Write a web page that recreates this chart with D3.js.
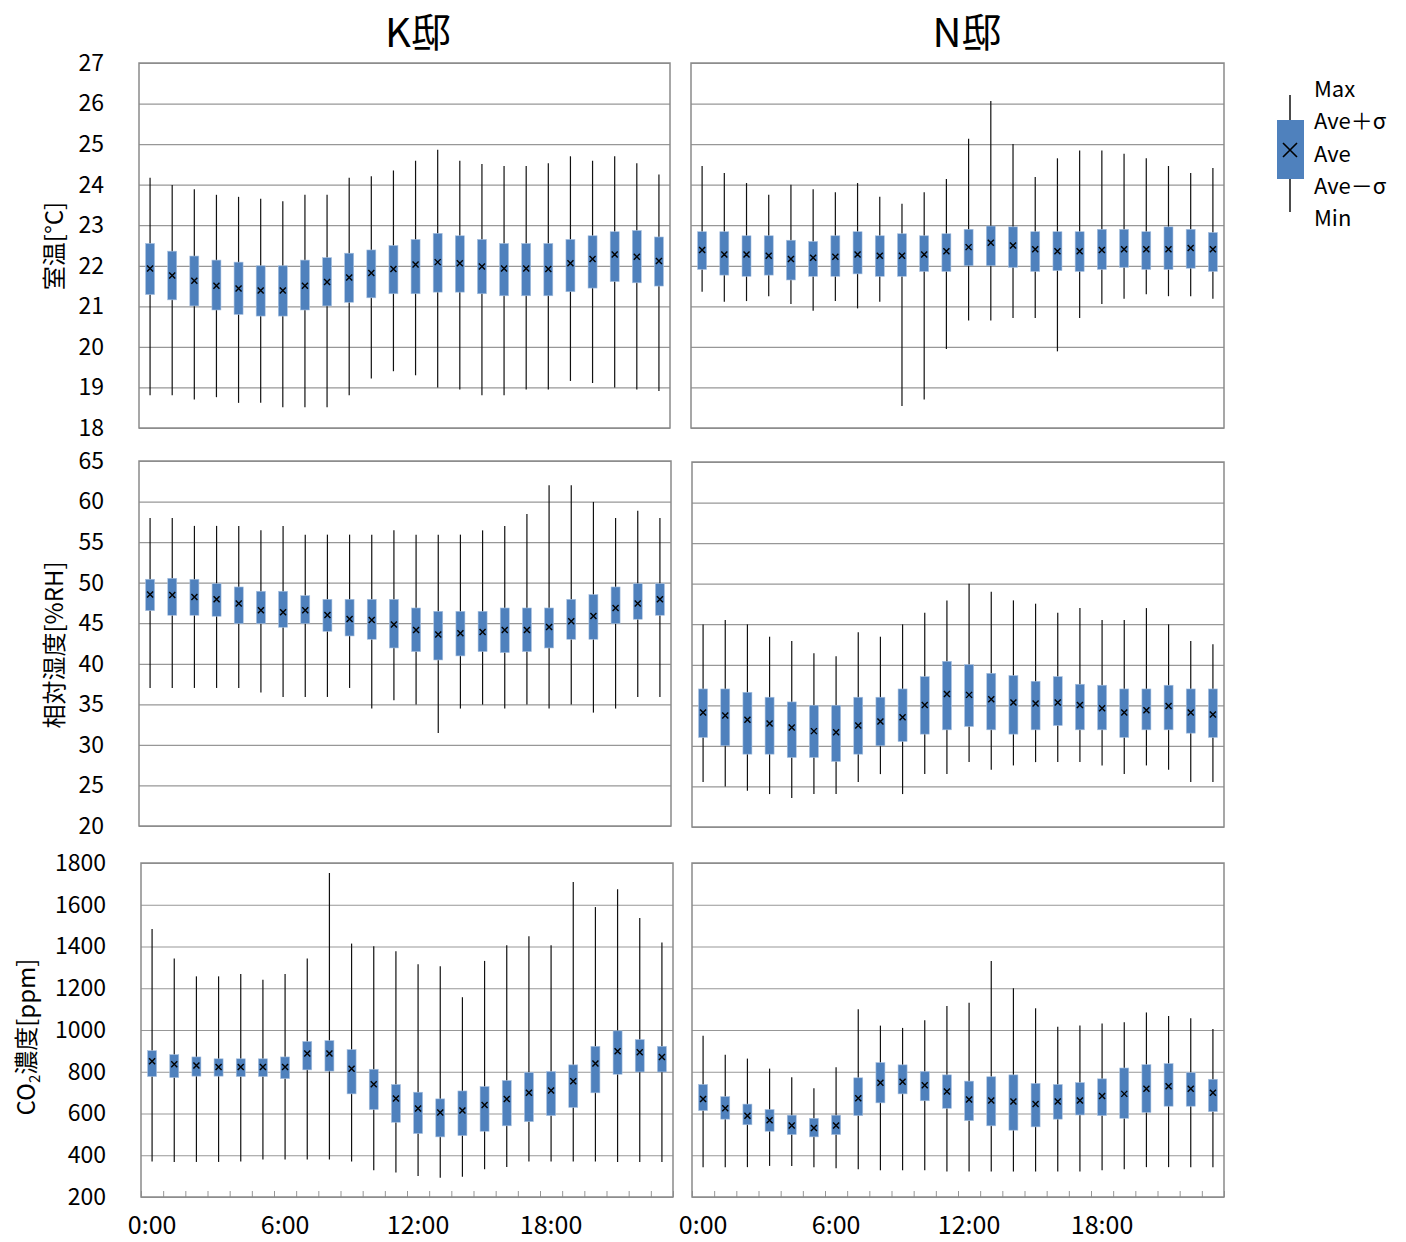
<!DOCTYPE html>
<html>
<head>
<meta charset="utf-8">
<script src="https://cdn.jsdelivr.net/npm/d3@7"></script>
<style>
  body { margin: 0; background: #fff; }
  svg text { font-family: "Noto Sans CJK JP", sans-serif; fill: #000; }
</style>
</head>
<body>
<svg id="chart" width="1406" height="1242"></svg>
<script>
// hours 0:00 .. 23:00
var hours = d3.range(24).map(function (h) { return h + ":00"; });
var hourLabels = ["0:00", "6:00", "12:00", "18:00"];

// K邸 室温
var kTempMax  = [24.17,23.99,23.89,23.75,23.70,23.65,23.59,23.75,23.75,24.17,24.21,24.35,24.59,24.86,24.59,24.51,24.46,24.46,24.53,24.70,24.59,24.70,24.53,24.25];
var kTempHi   = [22.55,22.36,22.24,22.14,22.09,22.00,22.00,22.14,22.20,22.31,22.39,22.50,22.65,22.80,22.74,22.65,22.55,22.55,22.55,22.65,22.74,22.84,22.87,22.71];
var kTempAve  = [21.93,21.76,21.63,21.51,21.44,21.39,21.39,21.51,21.60,21.71,21.82,21.92,22.03,22.09,22.06,21.98,21.93,21.93,21.92,22.06,22.17,22.28,22.22,22.12];
var kTempLo   = [21.29,21.16,21.01,20.91,20.80,20.76,20.76,20.91,21.01,21.10,21.21,21.31,21.31,21.35,21.35,21.31,21.26,21.26,21.26,21.36,21.45,21.61,21.58,21.50];
var kTempMin  = [18.81,18.81,18.70,18.76,18.62,18.62,18.51,18.51,18.51,18.81,19.22,19.40,19.30,19.00,18.95,18.81,18.81,18.95,18.95,19.16,19.11,19.00,18.95,18.91];

// N邸 室温
var nTempMax  = [24.46,24.29,24.04,23.75,24.00,23.89,23.81,24.04,23.70,23.53,23.81,24.14,25.13,26.06,25.00,24.19,24.65,24.84,24.84,24.76,24.65,24.46,24.29,24.41];
var nTempHi   = [22.84,22.84,22.74,22.74,22.63,22.60,22.74,22.84,22.74,22.79,22.74,22.79,22.90,22.98,22.96,22.84,22.84,22.84,22.90,22.90,22.84,22.96,22.90,22.82];
var nTempAve  = [22.39,22.28,22.28,22.25,22.17,22.20,22.22,22.28,22.25,22.25,22.28,22.36,22.46,22.57,22.50,22.41,22.36,22.36,22.39,22.41,22.41,22.41,22.44,22.41];
var nTempLo   = [21.91,21.77,21.74,21.77,21.65,21.74,21.74,21.80,21.74,21.74,21.86,21.86,22.00,22.00,21.96,21.86,21.88,21.86,21.91,21.96,21.91,21.91,21.94,21.86];
var nTempMin  = [21.36,21.11,21.13,21.25,21.06,20.89,21.13,20.95,21.11,18.54,18.70,19.95,20.65,20.65,20.71,20.71,19.89,20.71,21.06,21.19,21.30,21.25,21.25,21.19];

// K邸 相対湿度
var kRhMax  = [57.97,57.97,57.00,57.00,57.00,56.45,57.00,55.92,55.92,55.92,55.92,56.45,55.92,55.92,55.92,56.45,57.00,58.47,62.00,62.00,59.95,57.97,58.88,57.97];
var kRhHi   = [50.42,50.54,50.42,49.88,49.47,48.94,48.94,48.40,47.95,47.95,47.95,47.95,46.88,46.47,46.47,46.47,46.88,46.88,46.88,47.95,48.53,49.47,49.88,49.88];
var kRhAve  = [48.53,48.49,48.24,47.95,47.42,46.60,46.35,46.60,46.02,45.53,45.40,44.83,44.17,43.60,43.76,43.93,44.17,44.17,44.54,45.24,45.90,46.88,47.42,47.95];
var kRhLo   = [46.55,45.98,45.98,45.86,44.95,44.95,44.50,44.95,44.00,43.43,43.02,41.95,41.50,40.47,40.97,41.50,41.38,41.50,41.95,43.02,43.02,44.95,45.49,45.98];
var kRhMin  = [37.02,37.02,37.02,37.02,37.02,36.45,35.91,35.91,35.91,37.02,34.48,35.50,34.97,31.48,34.48,34.97,34.48,34.97,34.48,34.97,33.98,34.48,35.91,35.91];

// N邸 相対湿度
var nRhMax  = [44.98,45.52,44.98,43.46,42.93,41.41,41.04,44.00,43.46,44.98,46.42,47.94,49.99,49.00,47.94,47.53,46.42,46.99,45.52,45.52,46.99,44.98,42.93,42.52];
var nRhHi   = [37.02,37.02,36.61,36.00,35.42,35.01,35.01,36.00,36.00,37.02,38.54,40.43,40.02,38.95,38.67,37.97,38.54,37.60,37.48,37.02,37.02,37.48,37.02,37.02];
var nRhAve  = [34.11,33.74,33.21,32.76,32.27,31.82,31.69,32.51,33.00,33.54,35.05,36.41,36.29,35.75,35.34,35.22,35.34,35.05,34.64,34.11,34.40,34.93,34.11,33.86];
var nRhLo   = [31.04,30.01,28.98,28.98,28.57,28.57,28.08,28.98,30.01,30.54,31.45,31.98,32.39,31.98,31.45,31.98,32.51,31.98,31.98,31.04,31.98,31.98,31.57,31.04];
var nRhMin  = [25.54,25.00,24.47,24.06,23.57,24.06,24.06,25.54,26.52,24.06,26.52,26.52,28.00,27.06,27.59,28.00,28.00,28.00,27.59,26.52,27.59,27.06,25.54,25.54];

// K邸 CO2濃度
var kCo2Max = [1484,1342,1257,1257,1268,1241,1268,1342,1752,1414,1401,1377,1315,1305,1157,1331,1406,1449,1406,1709,1589,1674,1537,1419];
var kCo2Hi  = [901,882,871,862,862,862,871,945,949,906,812,739,702,670,708,729,758,797,801,833,922,996,954,922];
var kCo2Ave = [850,836,830,823,823,823,823,887,887,814,740,672,624,605,614,641,670,699,710,755,839,898,893,871];
var kCo2Lo  = [777,772,779,779,777,777,767,809,803,694,619,558,504,488,494,515,541,561,590,629,699,788,799,799];
var kCo2Min = [370,368,368,368,370,380,380,380,380,370,328,317,301,292,297,333,344,370,370,370,370,368,368,368];

// N邸 CO2濃度
var nCo2Max = [973,882,863,815,774,721,822,1100,1021,1010,1047,1115,1131,1331,1200,1104,1016,1021,1031,1037,1084,1067,1056,1005];
var nCo2Hi  = [739,681,645,619,592,577,592,771,844,833,801,785,755,776,785,744,739,748,766,818,834,839,796,764];
var nCo2Ave = [670,625,589,568,542,531,542,673,747,752,735,705,667,662,657,646,657,662,684,694,719,731,719,699];
var nCo2Lo  = [614,573,546,515,499,488,499,590,651,694,661,625,566,541,520,536,573,593,590,577,605,635,635,609];
var nCo2Min = [343,343,343,349,349,343,338,333,328,328,328,322,322,322,322,322,322,322,328,333,343,343,343,343];

var tempTicks = d3.range(18, 28, 1);
var rhTicks   = d3.range(20, 70, 5);
var co2Ticks  = d3.range(200, 2000, 200);

var svg = d3.select("#chart");
var boxColor = "#4f81bd";

function zip(mx, hi, av, lo, mn) {
    return hours.map(function (h, i) {
        return { hour: h, max: mx[i], hi: hi[i], ave: av[i], lo: lo[i], min: mn[i] };
    });
}

function panel(p) {
    var w = p.x1 - p.x0, h = p.y1 - p.y0;
    var x = d3.scaleBand().domain(hours).range([0, w]);
    var y = d3.scaleLinear().domain(p.domain).range([h, 0]);
    var g = svg.append("g").attr("transform", "translate(" + p.x0 + "," + p.y0 + ")");

    // grid
    g.append("g")
        .call(d3.axisLeft(y).tickValues(p.ticks).tickSize(-w).tickFormat(""))
        .call(function (a) { a.select(".domain").remove(); })
        .selectAll("line").attr("stroke", "#979797").attr("stroke-width", 1.2);

    // y labels
    if (p.labels) {
        var ya = g.append("g")
            .attr("transform", "translate(-35,0)")
            .call(d3.axisLeft(y).tickValues(p.ticks).tickSize(0).tickPadding(0).tickFormat(d3.format("d")));
        ya.select(".domain").remove();
        ya.selectAll("text").attr("font-size", "23px").attr("fill", "#000")
            .style("font-family", "'Noto Sans CJK JP', sans-serif");
    }

    // bottom ticks + hour labels
    if (p.xaxis) {
        var xt = d3.scaleLinear().domain([0, 24]).range([0, w]);
        g.append("g")
            .attr("transform", "translate(0," + h + ")")
            .call(d3.axisBottom(xt).ticks(24).tickSize(-6).tickFormat(""))
            .call(function (a) { a.select(".domain").remove(); })
            .selectAll("line").attr("stroke", "#979797");
        var xa = g.append("g")
            .attr("transform", "translate(0," + h + ")")
            .call(d3.axisBottom(x).tickValues(hourLabels).tickSize(0).tickPadding(19));
        xa.select(".domain").remove();
        xa.selectAll("text").attr("font-size", "25px").attr("fill", "#000")
            .style("font-family", "'Noto Sans CJK JP', sans-serif");
    }

    var data = zip.apply(null, p.series);
    var bw = 9;
    var item = g.selectAll(".item").data(data).enter().append("g").attr("class", "item");

    item.append("line")
        .attr("x1", function (d) { return x(d.hour) + x.bandwidth() / 2; })
        .attr("x2", function (d) { return x(d.hour) + x.bandwidth() / 2; })
        .attr("y1", function (d) { return y(d.max); })
        .attr("y2", function (d) { return y(d.min); })
        .attr("stroke", "#111").attr("stroke-width", 1.2);

    item.append("rect")
        .attr("x", function (d) { return x(d.hour) + x.bandwidth() / 2 - bw / 2; })
        .attr("y", function (d) { return y(d.hi); })
        .attr("width", bw)
        .attr("height", function (d) { return y(d.lo) - y(d.hi); })
        .attr("fill", boxColor)
        .attr("stroke", "#a9c1df").attr("stroke-width", 0.6);

    item.append("path")
        .attr("d", function (d) {
            var cx = x(d.hour) + x.bandwidth() / 2, cy = y(d.ave), s = 3;
            return "M" + (cx - s) + "," + (cy - s) + "L" + (cx + s) + "," + (cy + s) +
                   "M" + (cx - s) + "," + (cy + s) + "L" + (cx + s) + "," + (cy - s);
        })
        .attr("stroke", "#000").attr("stroke-width", 1.4).attr("fill", "none");

    // frame
    g.append("rect")
        .attr("width", w).attr("height", h)
        .attr("fill", "none").attr("stroke", "#8a8a8a").attr("stroke-width", 1.5);
}

panel({ x0: 139, x1: 670, y0: 63, y1: 428, domain: [18, 27], ticks: tempTicks, labels: true,
        series: [kTempMax, kTempHi, kTempAve, kTempLo, kTempMin] });
panel({ x0: 691, x1: 1224, y0: 63, y1: 428, domain: [18, 27], ticks: tempTicks, labels: false,
        series: [nTempMax, nTempHi, nTempAve, nTempLo, nTempMin] });
panel({ x0: 139, x1: 671, y0: 461, y1: 826, domain: [20, 65], ticks: rhTicks, labels: true,
        series: [kRhMax, kRhHi, kRhAve, kRhLo, kRhMin] });
panel({ x0: 692, x1: 1224, y0: 462, y1: 827, domain: [20, 65], ticks: rhTicks, labels: false,
        series: [nRhMax, nRhHi, nRhAve, nRhLo, nRhMin] });
panel({ x0: 141, x1: 673, y0: 863, y1: 1197, domain: [200, 1800], ticks: co2Ticks, labels: true, xaxis: true,
        series: [kCo2Max, kCo2Hi, kCo2Ave, kCo2Lo, kCo2Min] });
panel({ x0: 692, x1: 1224, y0: 863, y1: 1197, domain: [200, 1800], ticks: co2Ticks, labels: false, xaxis: true,
        series: [nCo2Max, nCo2Hi, nCo2Ave, nCo2Lo, nCo2Min] });

// titles
svg.append("text").attr("x", 418).attr("y", 47).attr("text-anchor", "middle")
    .attr("font-size", "40px").text("K邸");
svg.append("text").attr("x", 967).attr("y", 47).attr("text-anchor", "middle")
    .attr("font-size", "40px").text("N邸");

// y axis titles
svg.append("text").attr("transform", "translate(63,246) rotate(-90)")
    .attr("text-anchor", "middle").attr("font-size", "24px").text("室温[°C]");
svg.append("text").attr("transform", "translate(63,645) rotate(-90)")
    .attr("text-anchor", "middle").attr("font-size", "24px").text("相対湿度[%RH]");
var co2t = svg.append("text").attr("transform", "translate(35,1037) rotate(-90)")
    .attr("text-anchor", "middle").attr("font-size", "24px");
co2t.append("tspan").text("CO");
co2t.append("tspan").attr("font-size", "15px").attr("dy", 5).text("2");
co2t.append("tspan").attr("dy", -5).text("濃度[ppm]");

// legend
var lg = svg.append("g");
lg.append("line").attr("x1", 1290).attr("x2", 1290).attr("y1", 95).attr("y2", 212)
    .attr("stroke", "#111").attr("stroke-width", 1.5);
lg.append("rect").attr("x", 1277).attr("y", 120).attr("width", 27).attr("height", 59)
    .attr("fill", boxColor);
lg.append("path").attr("d", "M1283,143L1297,157M1283,157L1297,143")
    .attr("stroke", "#000").attr("stroke-width", 1.6);
var legendLabels = ["Max", "Ave＋σ", "Ave", "Ave－σ", "Min"];
lg.selectAll(".lt").data(legendLabels).enter().append("text")
    .attr("x", 1314)
    .attr("y", function (d, i) { return 97 + i * 32.3; })
    .attr("font-size", "22px")
    .text(function (d) { return d; });
</script>
</body>
</html>
